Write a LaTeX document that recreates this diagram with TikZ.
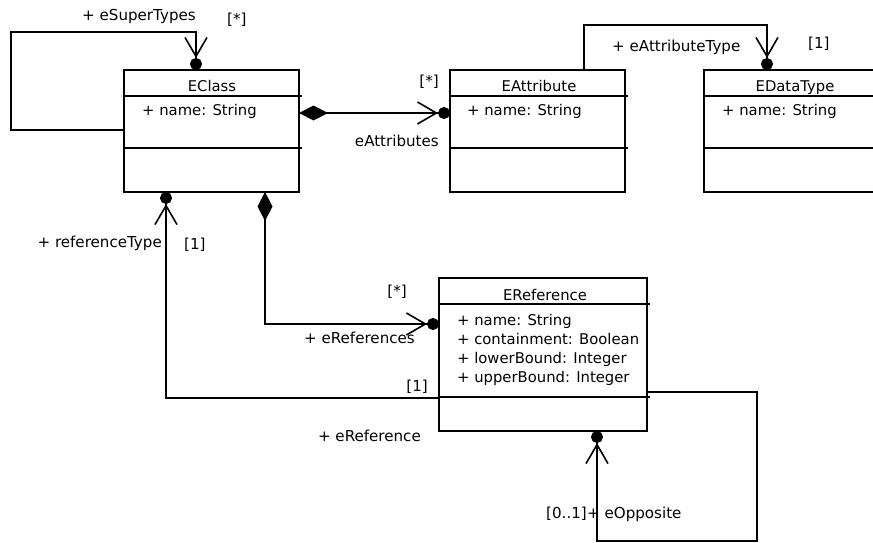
\documentclass[tikz,border=0pt]{standalone}
\usepackage{fontspec}
\setmainfont{DejaVu Sans}
\usetikzlibrary{arrows.meta}
\begin{document}
\begin{tikzpicture}[x=1pt,y=-1pt,
  classbox/.style={draw,line width=1.8pt,anchor=north west,inner sep=0pt,outer sep=0pt},
  divider/.style={line width=1.8pt},
  boxtitle/.style={anchor=base,inner sep=0pt,font=\fontsize{14.8}{17}\selectfont},
  member/.style={anchor=base west,inner sep=0pt,font=\fontsize{14.8}{17}\selectfont},
  rolelabel/.style={inner sep=0pt,font=\fontsize{15.1}{17}\selectfont},
  assoc/.style={line width=1.6pt,line join=miter},
  navend/.style={-{Straight Barb[length=19pt,width=22pt,line width=1.6pt]Circle[length=12pt]}},
  ownednav/.style={{Diamond[length=29pt,width=15pt]}-{Straight Barb[length=19pt,width=22pt,line width=1.6pt]Circle[length=12pt]}}]

\clip (0,0) rectangle (873,543);
\fill[white] (0,0) rectangle (873,543);

% ---- classes ----
\node[classbox,minimum width=175pt,minimum height=122pt] (eclass) at (124,70) {};
\draw[divider] (124,96) -- (302,96) (124,148) -- (302,148);
\node[boxtitle] (eclass-t) at (212,91.5) {EClass};
\node[member] (eclass-a) at (142,115) {+ name: String};

\node[classbox,minimum width=175pt,minimum height=122pt] (eattr) at (450,70) {};
\draw[divider] (450,96) -- (628,96) (450,148) -- (628,148);
\node[boxtitle] (eattr-t) at (539,91.5) {EAttribute};
\node[member] (eattr-a) at (467,115) {+ name: String};

\node[classbox,minimum width=190pt,minimum height=122pt] (edt) at (704,70) {};
\draw[divider] (704,96) -- (900,96) (704,148) -- (900,148);
\node[boxtitle] (edt-t) at (795,91.5) {EDataType};
\node[member] (edt-a) at (722,115) {+ name: String};

\node[classbox,minimum width=208pt,minimum height=153pt] (eref) at (439,278) {};
\draw[divider] (439,304) -- (650,304) (439,397) -- (650,397);
\node[boxtitle] (eref-t) at (545,300) {EReference};
\node[member] (eref-a1) at (457,325) {+ name: String};
\node[member] (eref-a2) at (457,344) {+ containment: Boolean};
\node[member] (eref-a3) at (457,363.5) {+ lowerBound: Integer};
\node[member] (eref-a4) at (457,382.5) {+ upperBound: Integer};

% ---- connection points on the class borders ----
\coordinate (ec-w)  at (124,130);
\coordinate (ec-n)  at (196,70);
\coordinate (ec-e)  at (299,113);
\coordinate (ec-s1) at (166,192);
\coordinate (ec-s2) at (265,192);
\coordinate (ea-w)  at (450,113);
\coordinate (ea-n)  at (584,70);
\coordinate (edt-n) at (767,70);
\coordinate (er-w1) at (439,324);
\coordinate (er-w2) at (439,398);
\coordinate (er-e)  at (647,392);
\coordinate (er-s)  at (597,431);
\coordinate (sup-bend) at (11,32);

% ---- associations ----
\draw[assoc,navend] (ec-w) -| (sup-bend) -| (ec-n);
\draw[assoc,ownednav] (ec-e) -- (ea-w);
\draw[assoc,navend] (ea-n) -- ++(0,-45) -| (edt-n);
\draw[assoc,ownednav] (ec-s2) |- (er-w1);
\draw[assoc,navend] (er-w2) -| (ec-s1);
\draw[assoc,navend] (er-e) -- ++(110,0) -- ++(0,149) -| (er-s);

% ---- role names and multiplicities ----
\node[rolelabel,anchor=base west] (l-sup)   at (82,21)    {+ eSuperTypes};
\node[rolelabel,anchor=base west] (m-sup)   at (227,25)   {[*]};
\node[rolelabel,anchor=base east] (m-attr)  at (439,86)   {[*]};
\node[rolelabel,anchor=base east] (l-attr)  at (439,146.5){eAttributes};
\node[rolelabel,anchor=base west] (l-atype) at (612,51.5) {+ eAttributeType};
\node[rolelabel,anchor=base west] (m-atype) at (808,49)   {[1]};
\node[rolelabel,anchor=base east] (l-rtype) at (162,247)  {+ referenceType};
\node[rolelabel,anchor=base west] (m-rtype) at (184,249)  {[1]};
\node[rolelabel,anchor=base east] (m-refs)  at (407,296)  {[*]};
\node[rolelabel,anchor=base east] (l-refs)  at (415,343)  {+ eReferences};
\node[rolelabel,anchor=base east] (m-rt2)   at (428,391)  {[1]};
\node[rolelabel,anchor=base east] (l-eref)  at (421,441.5){+ eReference};
\node[rolelabel,anchor=base east] (m-opp)   at (587,518)  {[0..1]};
\node[rolelabel,anchor=base west] (l-opp)   at (587,518)  {+ eOpposite};
\end{tikzpicture}
\end{document}
